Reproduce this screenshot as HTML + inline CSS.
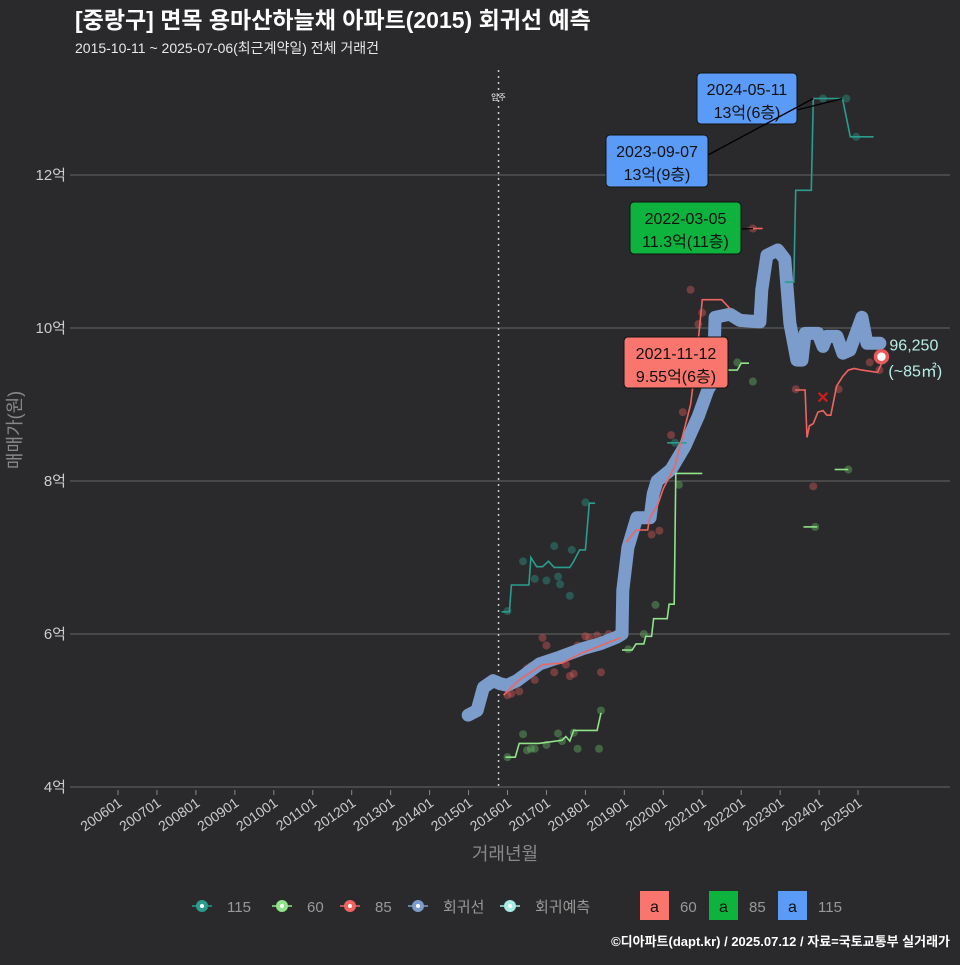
<!DOCTYPE html>
<html><head><meta charset="utf-8">
<style>
html,body{margin:0;padding:0;background:#2a2a2c;}
body{width:960px;height:960px;overflow:hidden;font-family:"Liberation Sans","Noto Sans CJK KR",sans-serif;}
svg text{font-family:"Liberation Sans","Noto Sans CJK KR",sans-serif;}
</style></head>
<body>
<svg id="chart" width="960" height="960" xmlns="http://www.w3.org/2000/svg">
<rect x="0" y="0" width="960" height="960" fill="#2a2a2c"/>
<text x="75" y="28" fill="#ffffff" font-size="23" font-weight="bold">[중랑구] 면목 용마산하늘채 아파트(2015) 회귀선 예측</text>
<text x="75" y="53" fill="#e8e8e8" font-size="14">2015-10-11 ~ 2025-07-06(최근계약일) 전체 거래건</text>
<g id="grid"></g>
<g id="marks"></g>
<g id="annot"></g>
<text x="0" y="0" transform="translate(21,430) rotate(-90)" fill="#888" font-size="18" text-anchor="middle">매매가(원)</text>
<text x="505" y="860" fill="#888" font-size="18" text-anchor="middle">거래년월</text>
<g id="legend"></g>
<text x="950" y="946" fill="#ffffff" font-size="13" font-weight="bold" text-anchor="end">©디아파트(dapt.kr) / 2025.07.12 / 자료=국토교통부 실거래가</text>
</svg>
<script>
const yTicks=[4,6,8,10,12];
const yTickLabels=["4억","6억","8억","10억","12억"];
const xTickYears=[2006,2007,2008,2009,2010,2011,2012,2013,2014,2015,2016,2017,2018,2019,2020,2021,2022,2023,2024,2025];
const xTickLabels=["200601","200701","200801","200901","201001","201101","201201","201301","201401","201501","201601","201701","201801","201901","202001","202101","202201","202301","202401","202501"];
const regT=[2014.99,2015.22,2015.38,2015.63,2015.81,2015.99,2016.24,2016.83,2017.35,2017.94,2018.37,2018.81,2018.94,2018.96,2019.09,2019.32,2019.66,2019.74,2019.84,2020.2,2020.55,2020.9,2021.15,2021.28,2021.33,2021.71,2021.97,2022.48,2022.53,2022.66,2022.94,2023.12,2023.25,2023.43,2023.56,2023.64,2023.97,2024.1,2024.2,2024.46,2024.61,2024.79,2025.1,2025.23,2025.56];
const regV=[4.94,5.0,5.3,5.39,5.35,5.33,5.39,5.61,5.7,5.81,5.87,5.96,6.0,6.57,7.13,7.52,7.52,7.83,8.0,8.15,8.45,8.85,9.2,9.3,10.14,10.18,10.1,10.08,10.5,10.95,11.02,10.9,10.06,9.58,9.58,9.93,9.93,9.76,9.89,9.89,9.67,9.71,10.14,9.8,9.8];
const red1T=[2015.9,2016.0,2016.3,2016.6,2016.9,2017.4,2017.9,2018.4,2018.9];
const red1V=[5.2,5.25,5.4,5.5,5.6,5.62,5.75,5.85,5.95];
const red2T=[2019.05,2019.3,2019.6,2019.65,2019.85,2020.0,2020.1,2020.3,2020.5,2020.7,2020.85,2021.0,2021.5,2021.72];
const red2V=[7.2,7.36,7.36,7.52,7.68,7.9,8.0,8.2,8.6,9.0,9.6,10.37,10.37,10.25];
const red3T=[2022.15,2022.55];
const red3V=[11.3,11.3];
const red4T=[2023.38,2023.64,2023.69,2023.75,2023.85,2023.97,2024.1,2024.2,2024.3,2024.45,2024.61,2024.75,2024.9,2025.1,2025.5,2025.6];
const red4V=[9.19,9.19,8.57,8.72,8.75,8.9,8.92,8.86,8.86,9.24,9.37,9.45,9.47,9.45,9.42,9.53];
const g1T=[2015.95,2016.2,2016.3,2016.8,2017.4,2017.5,2017.6,2017.7,2018.3,2018.4];
const g1V=[4.39,4.39,4.57,4.57,4.61,4.66,4.6,4.74,4.74,4.97];
const g2T=[2018.94,2019.2,2019.3,2019.5,2019.55,2019.7,2019.75,2020.1,2020.15,2020.28,2020.32,2021.0];
const g2V=[5.79,5.79,5.87,5.87,5.97,5.97,6.2,6.2,6.39,6.39,8.1,8.1];
const g3T=[2021.3,2021.9,2022.0,2022.2];
const g3V=[9.45,9.45,9.54,9.54];
const g4T=[2023.6,2023.95];
const g4V=[7.4,7.4];
const g5T=[2024.4,2024.75];
const g5V=[8.15,8.15];
const t1T=[2015.85,2016.05,2016.1,2016.55,2016.6,2016.75,2016.9,2017.05,2017.2,2017.6,2017.7,2017.85,2018.0,2018.1,2018.25];
const t1V=[6.29,6.29,6.64,6.64,7.0,6.88,6.88,6.95,6.87,6.87,6.95,7.1,7.1,7.71,7.71];
const t2T=[2020.1,2020.6];
const t2V=[8.5,8.5];
const t3T=[2023.12,2023.35,2023.4,2023.8,2023.85,2024.6,2024.8,2025.4];
const t3V=[10.6,10.6,11.8,11.8,13.0,13.0,12.5,12.5];
const redPtT=[2016.0,2016.1,2016.3,2016.5,2016.6,2016.7,2016.9,2017.0,2017.2,2017.3,2017.5,2017.6,2017.7,2017.8,2018.0,2018.1,2018.3,2018.4,2018.5,2018.6,2019.2,2019.5,2019.6,2019.7,2019.9,2020.2,2020.5,2020.7,2020.9,2021.0,2021.3,2022.3,2023.4,2023.85,2024.5,2025.3,2025.55,2020.4];
const redPtV=[5.2,5.22,5.25,5.55,5.58,5.4,5.95,5.85,5.5,5.65,5.6,5.45,5.48,5.85,5.97,5.95,5.98,5.5,5.9,6.0,7.3,7.5,7.55,7.3,7.35,8.6,8.9,10.5,10.05,10.2,9.3,11.3,9.2,7.93,9.2,9.55,9.45,9.3];
const grnPtT=[2016.0,2016.6,2016.4,2016.5,2016.7,2017.0,2017.3,2017.4,2017.7,2017.8,2018.4,2018.35,2019.1,2019.5,2019.8,2020.3,2020.4,2021.9,2022.3,2023.9,2024.75];
const grnPtV=[4.39,4.5,4.69,4.48,4.5,4.55,4.7,4.6,4.71,4.5,5.0,4.5,5.8,6.0,6.38,8.25,7.95,9.55,9.3,7.4,8.15];
const tealPtT=[2016.0,2016.4,2016.7,2017.0,2017.2,2017.3,2017.35,2017.6,2017.65,2018.0,2023.2,2024.1,2024.7,2024.95,2020.3];
const tealPtV=[6.3,6.95,6.72,6.7,7.15,6.75,6.65,6.5,7.1,7.72,10.6,13.0,13.0,12.5,8.5];
const predT=[2025.6];
const predV=[9.625];

const NS="http://www.w3.org/2000/svg";
function X(t){return 118+(t-2006)*38.95;}
function Y(v){return 787-(v-4)*76.5;}
function el(tag,attrs,parent){const e=document.createElementNS(NS,tag);for(const k in attrs)e.setAttribute(k,attrs[k]);parent.appendChild(e);return e;}
const grid=document.getElementById('grid'),marks=document.getElementById('marks'),annot=document.getElementById('annot'),legend=document.getElementById('legend');
yTicks.forEach((v,i)=>{
  const l=el('line',{x1:70,x2:950,y1:Y(v),y2:Y(v),stroke:'#5a5a5a','stroke-width':1.2},grid);
  
  
  const t=el('text',{x:66,y:Y(v)+5,fill:'#cccccc','font-size':15,'text-anchor':'end'},grid);
  t.textContent=yTickLabels[i];
  
  
});
xTickYears.forEach((yr,i)=>{
  const x=X(yr);
  const tk=el('line',{x1:x,x2:x,y1:790,y2:795,stroke:'#888','stroke-width':1},grid);
  
  
  const t=el('text',{x:0,y:0,fill:'#cccccc','font-size':14,'text-anchor':'end',transform:`translate(${x+5},${805}) rotate(-35)`},grid);
  t.textContent=xTickLabels[i];
  
  
});
const mvT=2015.77;
const mv=el('line',{x1:X(mvT),x2:X(mvT),y1:70,y2:787,stroke:'#cccccc','stroke-width':1.5,'stroke-dasharray':'2,4'},grid);


const mvt=el('text',{x:X(mvT),y:100,fill:'#fff','font-size':8,'text-anchor':'middle'},grid);
mvt.textContent='입주';



function pts(T,V){return T.map((t,i)=>X(t).toFixed(1)+','+Y(V[i]).toFixed(1)).join(' ');}
function dots(T,V,color,name){T.forEach((t,i)=>{const c=el('circle',{cx:X(t),cy:Y(V[i]),r:3.5,fill:color,opacity:0.4,stroke:color,'stroke-width':1},marks);});}
dots(tealPtT,tealPtV,'#2a9d8f','point-115');
dots(grnPtT,grnPtV,'#6abf69','point-60');
dots(redPtT,redPtV,'#e25c5c','point-85');
const reg=el('polyline',{points:pts(regT,regV),fill:'none',stroke:'#7c9ccc','stroke-width':13,'stroke-linejoin':'round','stroke-linecap':'round'},marks);


function line(T,V,color,name){const p=el('polyline',{points:pts(T,V),fill:'none',stroke:color,'stroke-width':1.6},marks);}
[[t1T,t1V],[t2T,t2V],[t3T,t3V]].forEach(a=>line(a[0],a[1],'#2a9d8f','line-115'));
[[g1T,g1V],[g2T,g2V],[g3T,g3V],[g4T,g4V],[g5T,g5V]].forEach(a=>line(a[0],a[1],'#8fe388','line-60'));
[[red1T,red1V],[red2T,red2V],[red3T,red3V],[red4T,red4V]].forEach(a=>line(a[0],a[1],'#f0645f','line-85'));
const xm=el('text',{x:X(2024.1),y:Y(9.1)+6,fill:'#d01c1c','font-size':16,'text-anchor':'middle','font-weight':'bold'},marks);
xm.textContent='✕';


predT.forEach((t,i)=>{
  const c=el('circle',{cx:X(t),cy:Y(predV[i]),r:6,fill:'#fff',stroke:'#e8595a','stroke-width':3.5},marks);
  
  
  const a=el('text',{x:X(t)+8,y:Y(predV[i])-6,fill:'#b7efe6','font-size':16},marks);
  a.textContent='96,250';
  
  
  const b=el('text',{x:X(t)+7,y:Y(predV[i])+20,fill:'#b7efe6','font-size':16},marks);
  b.textContent='(~85㎡)';
  
  
});
function box(x,y,w,h,color,l1,l2,lx,ly,px,py,name){
  if(px!==null){const ln=el('line',{x1:lx,y1:ly,x2:px,y2:py,stroke:'#000','stroke-width':1.3},annot);}
  const r=el('rect',{x:x,y:y,width:w,height:h,rx:4,fill:color,stroke:'#111','stroke-width':1},annot);
  
  
  const t1=el('text',{x:x+w/2,y:y+22,fill:'#111','font-size':16,'text-anchor':'middle'},annot);t1.textContent=l1;
  
  
  const t2=el('text',{x:x+w/2,y:y+45,fill:'#111','font-size':16,'text-anchor':'middle'},annot);t2.textContent=l2;
  
  
}
box(697,73,100,51,'#5b9bf8','2024-05-11','13억(6층)',797,110,X(2024.6),Y(13),'label-2024-05-11');
box(606,135,102,52,'#5b9bf8','2023-09-07','13억(9층)',708,155,X(2023.85),Y(13),'label-2023-09-07');
box(630,202,111,52,'#0db33d','2022-03-05','11.3억(11층)',741,229,X(2022.3),Y(11.3),'label-2022-03-05');
box(624,337,104,51,'#f8766d','2021-11-12','9.55억(6층)',null,null,null,null,'label-2021-11-12');

const legItems=[['#2a9d8f','115',192],['#8fe388','60',272],['#f0645f','85',340],['#7c9ccc','회귀선',408],['#a7ece4','회귀예측',500]];
legItems.forEach(it=>{
  const g=el('g',{},legend);
  
  
  el('line',{x1:it[2],x2:it[2]+20,y1:906,y2:906,stroke:it[0],'stroke-width':1.5},g);
  el('circle',{cx:it[2]+10,cy:906,r:6,fill:it[0]},g);
  el('circle',{cx:it[2]+10,cy:906,r:2,fill:'#fff'},g);
  const t=el('text',{x:it[2]+35,y:912,fill:'#999','font-size':15},g);t.textContent=it[1];
});
const boxLeg=[['#f8766d','60',640],['#0db33d','85',709],['#5b9bf8','115',778]];
boxLeg.forEach(it=>{
  const g=el('g',{},legend);
  
  
  el('rect',{x:it[2],y:891,width:29,height:29,fill:it[0]},g);
  const a=el('text',{x:it[2]+14.5,y:912,fill:'#111','font-size':16,'text-anchor':'middle'},g);a.textContent='a';
  const t=el('text',{x:it[2]+40,y:912,fill:'#999','font-size':15},g);t.textContent=it[1];
});
</script>
</body></html>
